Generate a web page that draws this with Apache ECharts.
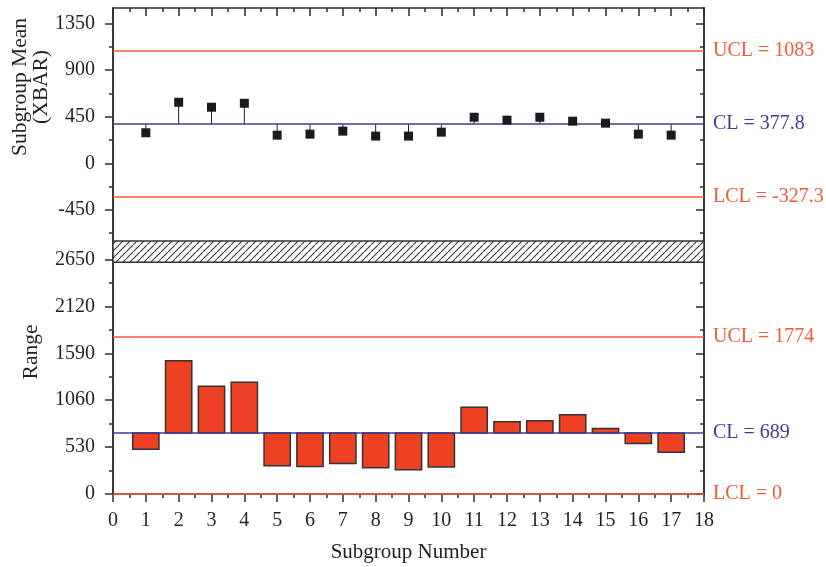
<!DOCTYPE html>
<html><head><meta charset="utf-8">
<script src="https://cdn.jsdelivr.net/npm/echarts@6/dist/echarts.min.js"></script>
<style>html,body{margin:0;padding:0;background:#fff}#c{width:826px;height:567px}</style>
</head><body><div id="c"></div>
<script>
// ---- data ----
const subgroups = [1,2,3,4,5,6,7,8,9,10,11,12,13,14,15,16,17];
const xbarValues = [295,590,542,580,272,282,311,263,263,301,445,417,445,407,388,282,272];
const rangeValues = [505,1505,1219,1264,320,312,346,297,274,305,982,816,828,895,741,572,471];
const xbarControl = [1083, 377.8, -327.3];   // UCL, CL, LCL
const rangeControl = [1774, 689, 0];          // UCL, CL, LCL
const controlNames = ['UCL','CL','LCL'];
const xbarLabelTicks = [-450,0,450,900,1350];
const xbarMinorTicks = [-675,-225,225,675,1125];
const rangeLabelTicks = [0,530,1060,1590,2120,2650];
const rangeMinorTicks = [265,795,1325,1855,2385];
const xTickLabels = [0,1,2,3,4,5,6,7,8,9,10,11,12,13,14,15,16,17,18];
const xbarRange = [-750, 1500];
const rangeRange = [0, 2860];
const breakBand = [2620, 2860];

// ---- style ----
const FONT = 'Liberation Serif';
const TXT = '#231f20';
const AX = '#2b2b2b';
const RED = '#f15a3a';
const BLUE = '#3f3c98';

const hatch = document.createElement('canvas');
hatch.width = 7; hatch.height = 7;
(function(){
  const g = hatch.getContext('2d');
  g.fillStyle = '#fff'; g.fillRect(0,0,7,7);
  g.strokeStyle = '#333'; g.lineWidth = 1.1;
  g.beginPath();
  g.moveTo(-1,8); g.lineTo(8,-1);
  g.stroke();
})();

const chart = echarts.init(document.getElementById('c'), null, {renderer:'canvas'});

function tickAxis(grid, pos, range, values, len, inside, labels){
  return {
    type:'value', gridIndex:grid, position:pos, min:range[0], max:range[1],
    splitLine:{show:false},
    axisLine:{show:true, onZero:false, lineStyle:{color:AX, width:1.5}},
    axisTick:{show:true, inside:inside, length:len, customValues:values, lineStyle:{color:AX, width:1.5}},
    axisLabel: labels ? {show:true, customValues:values, margin:18, fontFamily:FONT, fontSize:20, color:TXT,
                         formatter:(v)=>String(v)} : {show:false}
  };
}

function limitLines(vals, colorArr){
  return {
    silent:true, symbol:'none', animation:false,
    label:{position:'end', distance:9, fontFamily:FONT, fontSize:20},
    data: vals.map((v,i)=>({
      yAxis:v,
      lineStyle:{color:colorArr[i], width:1.5, type:'solid'},
      label:{formatter: controlNames[i] + ' = ' + v, color:colorArr[i]}
    }))
  };
}

const option = {
  animation:false,
  backgroundColor:'#fff',
  grid:[
    {left:113, top:8, width:591, height:233, outerBoundsMode:'none', containLabel:false},
    {left:113, top:241, width:591, height:253, outerBoundsMode:'none', containLabel:false}
  ],
  xAxis:[
    {type:'value', gridIndex:0, position:'top', min:0, max:18, interval:1,
     axisLine:{show:true, onZero:false, lineStyle:{color:AX, width:1.5}},
     axisTick:{show:true, inside:true, length:8, lineStyle:{color:AX, width:1.5}},
     minorTick:{show:true, splitNumber:2, length:4, lineStyle:{color:AX, width:1.5}},
     axisLabel:{show:false}, splitLine:{show:false}},
    {type:'value', gridIndex:1, position:'bottom', min:0, max:18, interval:1,
     axisLine:{show:true, onZero:false, lineStyle:{color:AX, width:1.5}},
     axisTick:{show:true, inside:false, length:8, lineStyle:{color:AX, width:1.5}},
     minorTick:{show:true, splitNumber:2, length:4, lineStyle:{color:AX, width:1.5}},
     axisLabel:{show:true, margin:17, fontFamily:FONT, fontSize:20, color:TXT,
       formatter:(v)=> xTickLabels.indexOf(v) >= 0 ? String(v) : ''},
     splitLine:{show:false},
     name:'Subgroup Number', nameLocation:'middle', nameGap:48,
     nameTextStyle:{fontFamily:FONT, fontSize:21, color:TXT}}
  ],
  yAxis:[
    tickAxis(0,'left',xbarRange,xbarLabelTicks,8,false,true),
    tickAxis(0,'left',xbarRange,xbarMinorTicks,4,false,false),
    tickAxis(0,'right',xbarRange,xbarLabelTicks,8,true,false),
    tickAxis(0,'right',xbarRange,xbarMinorTicks,4,true,false),
    tickAxis(1,'left',rangeRange,rangeLabelTicks,8,false,true),
    tickAxis(1,'left',rangeRange,rangeMinorTicks,4,false,false),
    tickAxis(1,'right',rangeRange,rangeLabelTicks,8,true,false),
    tickAxis(1,'right',rangeRange,rangeMinorTicks,4,true,false)
  ],
  graphic:[
    {type:'text', x:20, y:87, rotation:Math.PI/2,
     style:{text:'Subgroup Mean', font:'21.5px "Liberation Serif"', fill:TXT, align:'center', verticalAlign:'middle'}},
    {type:'text', x:41, y:87, rotation:Math.PI/2,
     style:{text:'(XBAR)', font:'21.5px "Liberation Serif"', fill:TXT, align:'center', verticalAlign:'middle'}},
    {type:'text', x:31, y:352, rotation:Math.PI/2,
     style:{text:'Range', font:'21.5px "Liberation Serif"', fill:TXT, align:'center', verticalAlign:'middle'}}
  ],
  series:[
    {
      type:'custom', xAxisIndex:0, yAxisIndex:0, z:3,
      data: subgroups.map((s,i)=>[s, xbarValues[i]]),
      encode:{x:0, y:1},
      renderItem:(params, api)=>{
        const x = api.value(0), v = api.value(1);
        const p = api.coord([x, v]);
        const c = api.coord([x, xbarControl[1]]);
        return {type:'line', shape:{x1:p[0], y1:p[1], x2:c[0], y2:c[1]}, style:{stroke:'#222', lineWidth:1}};
      },
      markLine: limitLines(xbarControl, [RED, BLUE, RED])
    },
    {
      type:'scatter', xAxisIndex:0, yAxisIndex:0, z:5,
      symbol:'rect', symbolSize:9,
      itemStyle:{color:'#1b1b1b', opacity:1},
      data: subgroups.map((s,i)=>[s, xbarValues[i]])
    },
    {
      type:'custom', xAxisIndex:1, yAxisIndex:4, z:3,
      data: subgroups.map((s,i)=>[s, rangeValues[i]]),
      encode:{x:0, y:1},
      renderItem:(params, api)=>{
        const x = api.value(0), v = api.value(1);
        const w = api.size([0.8, 0])[0];
        const a = api.coord([x, Math.max(v, rangeControl[1])]);
        const b = api.coord([x, Math.min(v, rangeControl[1])]);
        return {type:'rect', shape:{x:a[0]-w/2, y:a[1], width:w, height:b[1]-a[1]},
          style:{fill:'#ee4123', stroke:'#333', lineWidth:1.5}};
      },
      markLine: limitLines(rangeControl, [RED, BLUE, RED]),
      markArea:{
        silent:true,
        itemStyle:{color:{image:hatch, repeat:'repeat'}, borderColor:'#333', borderWidth:1.5},
        data:[[{yAxis:breakBand[0]}, {yAxis:breakBand[1]}]]
      }
    }
  ]
};
chart.setOption(option);
</script>
</body></html>
